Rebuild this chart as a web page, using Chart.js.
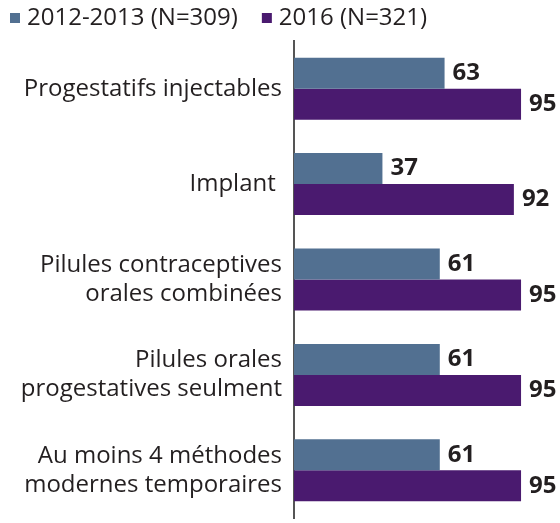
<!DOCTYPE html>
<html>
<head>
<meta charset="utf-8">
<script src="https://cdn.jsdelivr.net/npm/chart.js@4"></script>
<style>
  html, body { margin: 0; padding: 0; background: #fff; overflow: hidden; }
  canvas { display: block; }
</style>
</head>
<body>
<canvas id="myCanvas" width="560" height="523"></canvas>
<script>
// categories and values
const categories = [
    'Progestatifs injectables',
    'Implant ',
    ['Pilules contraceptives', 'orales combinées'],
    ['Pilules orales', 'progestatives seulment'],
    ['Au moins 4 méthodes', 'modernes temporaires']
];
const seriesNames = ['2012-2013 (N=309)', '2016 (N=321)'];
const values2012 = [63, 37, 61, 61, 61];
const values2016 = [95, 92, 95, 95, 95];

const blue = '#527091';
const purple = '#4a1a6f';
const textColor = '#231f20';
const fontFamily = '"Open Sans", "Noto Sans", sans-serif';

// value labels at the end of each bar
const barValues = {
    id: 'barValues',
    afterDatasetsDraw(chart) {
        const ctx = chart.ctx;
        ctx.save();
        ctx.font = 'bold 24px ' + fontFamily;
        ctx.fillStyle = textColor;
        ctx.textAlign = 'left';
        ctx.textBaseline = 'middle';
        chart.data.datasets.forEach((ds, i) => {
            chart.getDatasetMeta(i).data.forEach((bar, j) => {
                ctx.fillText(ds.data[j], bar.x + 8, bar.y);
            });
        });
        ctx.restore();
    }
};

// simple legend drawn at the top left
const topLegend = {
    id: 'topLegend',
    afterDraw(chart) {
        const ctx = chart.ctx;
        ctx.save();
        ctx.font = '24px ' + fontFamily;
        ctx.textBaseline = 'middle';
        ctx.textAlign = 'left';
        let x = 10;
        const y = 18;
        chart.data.datasets.forEach((ds) => {
            ctx.fillStyle = ds.backgroundColor;
            ctx.fillRect(x, y - 5, 10, 10);
            ctx.fillStyle = textColor;
            ctx.fillText(ds.label, x + 17, y);
            x += 17 + ctx.measureText(ds.label).width + 24;
        });
        ctx.restore();
    }
};

const data = {
    labels: categories,
    datasets: [
        { label: seriesNames[0], data: values2012, backgroundColor: blue },
        { label: seriesNames[1], data: values2016, backgroundColor: purple }
    ]
};

const config = {
    type: 'bar',
    data: data,
    options: {
        indexAxis: 'y',
        responsive: false,
        animation: false,
        layout: { padding: { top: 41, right: 27, bottom: 5, left: 0 } },
        datasets: {
            bar: { categoryPercentage: 0.65, barPercentage: 1.0 }
        },
        plugins: {
            legend: { display: false },
            tooltip: { enabled: false }
        },
        scales: {
            x: {
                display: false,
                min: 0,
                max: 100
            },
            y: {
                grid: { display: false, drawTicks: false },
                border: { display: true, color: '#555', width: 2 },
                ticks: {
                    color: textColor,
                    padding: 12,
                    font: { family: fontFamily, size: 24, lineHeight: 1.2 }
                },
                afterFit(scale) {
                    scale.width = 294;
                    // labels sit in the middle of their band, no extra room needed
                    scale.paddingTop = 0;
                    scale.paddingBottom = 0;
                }
            }
        }
    },
    plugins: [barValues, topLegend]
};

const myChart = new Chart(document.getElementById('myCanvas').getContext('2d'), config);
</script>
</body>
</html>
